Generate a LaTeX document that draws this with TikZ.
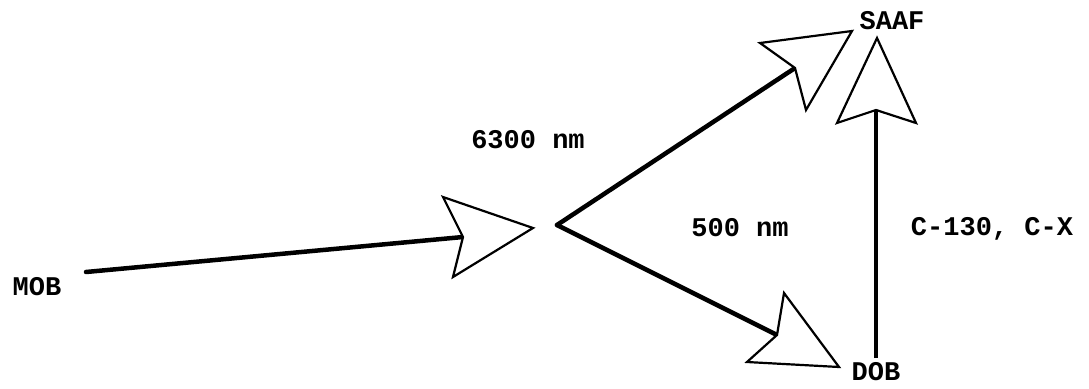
\documentclass[tikz,border=0pt]{standalone}
\usepackage{fontspec}
\setmonofont{Liberation Mono}
\begin{document}
\begin{tikzpicture}[x=1pt,y=-1pt,
  lbl/.style={font=\ttfamily\bfseries\fontsize{27}{27}\selectfont, inner sep=0pt},
  shaft/.style={line width=4.5pt, line cap=round},
  head/.style={line width=2.2pt, line join=miter, fill=white}]
\useasboundingbox (0,0) rectangle (1089,388);
% points
\coordinate (mobs) at (86,272);
\coordinate (apex) at (557,225);
\coordinate (n1) at (463,237);
\coordinate (n2) at (795,68);
\coordinate (n3) at (777,335);
\coordinate (dobs) at (876,358);
\coordinate (n4) at (876,110);
% shafts
\draw[shaft] (mobs) -- (n1);
\draw[shaft] (apex) -- (n2);
\draw[shaft] (apex) -- (n3);
\draw[line width=3.8pt] (dobs) -- (n4);
% heads
\draw[head] (n1) -- (443,197) -- (533,228) -- (453,277) -- cycle;
\draw[head] (n2) -- (760,43) -- (852,31) -- (806,110) -- cycle;
\draw[head] (n3) -- (784,293) -- (839,367) -- (747,362) -- cycle;
\draw[head] (n4) -- (837,123) -- (877,38) -- (916,123) -- cycle;
% labels
\node[lbl] (mob) at (37,287) {MOB};
\node[lbl] (saaf) at (892,21) {SAAF};
\node[lbl] (dob) at (876,372) {DOB};
\node[lbl] (l6300) at (528,140) {6300 nm};
\node[lbl] (l500) at (740,228) {500 nm};
\node[lbl] (lc130) at (992,229) {C-130, C-X};
\end{tikzpicture}
\end{document}
